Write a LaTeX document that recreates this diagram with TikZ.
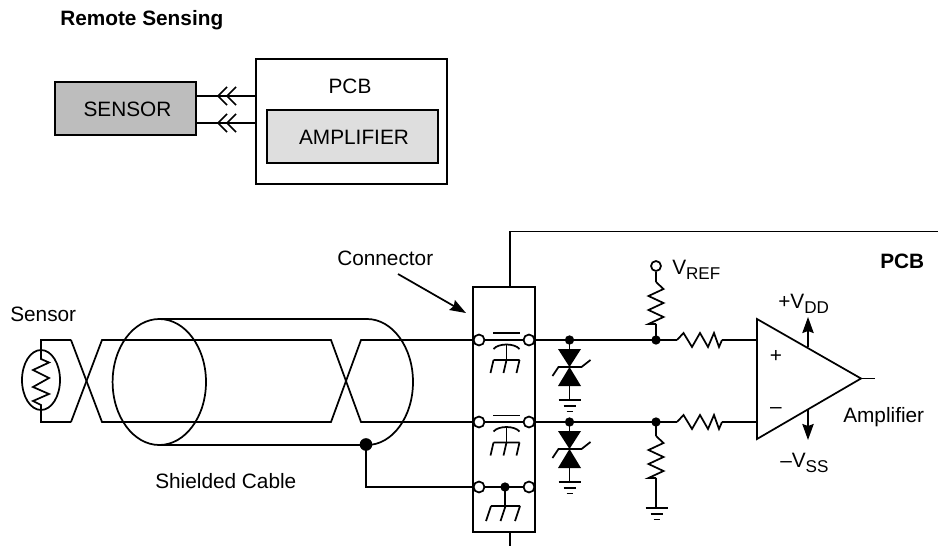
\documentclass[tikz,border=0pt]{standalone}
\usepackage{fontspec}
\setmainfont{Liberation Sans}
\usetikzlibrary{arrows.meta}
\newcommand{\subtxt}[1]{\raisebox{-4.2pt}{\fontsize{12.8}{14}\selectfont #1}}
\tikzset{
  ln/.style={line width=1.3pt,line cap=butt,line join=miter},
  lbl/.style={font=\fontsize{15.6}{18}\selectfont,inner sep=0pt,anchor=base west},
  blbl/.style={font=\bfseries\fontsize{15.6}{18}\selectfont,inner sep=0pt,anchor=base west},
  term/.style={circle,draw,fill=white,line width=1.3pt,inner sep=0pt,minimum size=8.2pt},
  dotnode/.style={circle,fill=black,inner sep=0pt,minimum size=#1},
  garrow/.style={-{Stealth[length=12pt,width=8.5pt,inset=1.5pt]},line width=1.3pt},
}
\newcommand{\vres}[3]{\draw[ln] (#1,#2) -- ++(#3,7*1) -- ++(-2*#3,7) -- ++(2*#3,7) -- ++(-2*#3,7) -- ++(2*#3,7) -- ++(-2*#3,7) -- (#1,#2+42);}
\newcommand{\hres}[2]{\draw[ln] (#1,#2) -- ++(6.5,-7) -- ++(8.5,14) -- ++(8,-14) -- ++(8,14) -- ++(6,-14) -- ++(5,14) -- ++(3,-7);}
\newcommand{\gnd}[2]{\draw[ln] (#1-11,#2) -- (#1+11,#2) (#1-6,#2+6) -- (#1+6,#2+6) (#1-3,#2+11.5) -- (#1+3,#2+11.5);}
\newcommand{\zener}[2]{%
  \fill (#1-11.5,#2+9) -- (#1+11.5,#2+9) -- (#1,#2+27) -- cycle;
  \fill (#1-11.5,#2+46) -- (#1+11.5,#2+46) -- (#1,#2+27) -- cycle;
  \draw[ln] (#1,#2) -- (#1,#2+60);
  \draw[ln] (#1-17,#2+36) -- (#1-11,#2+27) -- (#1+12,#2+27) -- (#1+21,#2+20);
  \gnd{#1}{#2+60}
}
\newcommand{\ticks}[4]{%
  \draw[ln] (#1-#3,#2) -- (#1+#3,#2)
    (#1-#3,#2) -- (#1-#3-3,#4) (#1,#2) -- (#1-3,#4) (#1+#3,#2) -- (#1+#3-3,#4);}
\newcommand{\capac}[2]{%
  \draw[ln] (#1-13.5,#2-7) -- (#1+13.5,#2-7);
  \draw[ln] (#1-13,#2+9) .. controls (#1-8,#2+3) and (#1+8,#2+3) .. (#1+13,#2+9);
  \draw[ln] (#1,#2+5) -- (#1,#2+20);
  \ticks{#1}{#2+20}{13}{#2+33}
}
\begin{document}
\begin{tikzpicture}[x=0.75pt,y=-0.75pt]
\useasboundingbox (0,0) rectangle (938,546);
% ---- top block diagram
\node[blbl] (title) at (60,26) {Remote Sensing};
\node[draw,line width=1.3pt,fill=black!26,inner sep=0pt,minimum width=105.75pt,minimum height=39.75pt] (sensorbox) at (125.5,108.5) {};
\node[lbl,anchor=base] (sensortext) at (127.5,116.5) {SENSOR};
\node[draw,line width=1.3pt,inner sep=0pt,minimum width=143.25pt,minimum height=93.75pt] (pcbbox) at (351.5,121.5) {};
\node[lbl,anchor=base] (pcbtext) at (350,93) {PCB};
\node[draw,line width=1.3pt,fill=black!13,inner sep=0pt,minimum width=128.25pt,minimum height=39.75pt] (ampbox) at (352.5,136.5) {};
\node[lbl,anchor=base] (amptext) at (354,144.5) {AMPLIFIER};
\coordinate (c1) at (sensorbox.east |- 0,96);
\coordinate (c2) at (pcbbox.west |- 0,96);
\coordinate (c3) at (sensorbox.east |- 0,123);
\coordinate (c4) at (pcbbox.west |- 0,123);
\draw[ln] (c1) -- (c2) (c3) -- (c4);
\foreach \yy in {96,123} \foreach \xx in {218,227}
  \draw[ln] (\xx+9,\yy-9) -- (\xx,\yy) -- (\xx+9,\yy+9);
% ---- PCB outline, connector
\node[draw,line width=1.3pt,inner sep=0pt,minimum width=46pt,minimum height=183.75pt] (conn) at (504,409.5) {};
\coordinate (pcbr) at (938,231.5);
\draw[ln] (conn.north -| 510,0) -- (510,231.5) -- (pcbr);
\draw[ln] (conn.south -| 510,0) -- (510,546);
\node[lbl] (connlbl) at (337,265) {Connector};
\coordinate (arrtail) at (398,274);
\coordinate (connarrow) at (466,313);
\draw[garrow] (arrtail) -- (connarrow);
% ---- sensor
\node[lbl] (sensorlbl) at (10,321) {Sensor};
\draw[ln] (41,380) ellipse (19 and 30);
\draw[ln] (71,340) -- (41,340) -- (41,359) -- (49,362.5) -- (33,370) -- (49,378) -- (33,387) -- (49,394) -- (33,401) -- (41,405) -- (41,422) -- (71,422);
% ---- cable wires
\draw[ln] (71,340) -- (102,422) -- (331,422) -- (361,340) -- (conn.west |- 0,340);
\draw[ln] (71,422) -- (102,340) -- (331,340) -- (361,422) -- (conn.west |- 0,422);
% ---- shield
\draw[ln] (159.3,382) ellipse (46.7 and 63);
\draw[ln] (159.3,319) -- (367,319) arc[start angle=-90,end angle=90,x radius=46,y radius=63] -- (159.3,445);
\node[lbl] (cablelbl) at (155,488) {Shielded Cable};
\node[dotnode=9.5pt] (shdot) at (366,444.5) {};
\draw[ln] (shdot.center) -- (366,487) -- (conn.west |- 0,487);
% ---- connector contents
\capac{506.5}{340}
\capac{506.5}{422.5}
\draw[ln] (491,506) -- (520,506) (491,506) -- (486,521) (505.5,506) -- (500.5,521) (520,506) -- (515,521);
\draw[ln] (479,340) -- (529,340) (479,422) -- (529,422) (479,487) -- (529,487);
\node[dotnode=7pt] (d3) at (505,487) {};
\draw[ln] (d3.center) -- (505,506);
\foreach \yy/\nn in {340/a,422/b,487/c}{
  \node[term] (tl\nn) at (479,\yy) {};
  \node[term] (tr\nn) at (529,\yy) {};
}
% ---- signal lines
\draw[ln] (tra) -- (677,340);
\draw[ln] (trb) -- (677,422);
\draw[ln] (722,340) -- (757,340) (722,422) -- (757,422);
\hres{677}{340}
\hres{677}{422}
% ---- zeners
\zener{569.5}{340}
\zener{569.5}{422}
\node[dotnode=7pt] (zd1) at (569.5,340) {};
\node[dotnode=7pt] (zd2) at (569.5,422) {};
% ---- reference divider
\node[circle,draw,line width=1.3pt,inner sep=0pt,minimum size=7.5pt] (vref) at (656,266) {};
\node[dotnode=7pt] (j1) at (656,340) {};
\node[dotnode=7pt] (j2) at (656,422) {};
\draw[ln] (vref) -- (656,282);
\vres{656}{282}{7.5}
\draw[ln] (656,324) -- (j1.center);
\draw[ln] (j2.center) -- (656,436);
\vres{656}{436}{7.5}
\draw[ln] (656,478) -- (656,508);
\gnd{656.5}{508}
\node[lbl] (vreflbl) at (672,274) {V\subtxt{REF}};
\node[blbl] (pcblbl) at (880,268) {PCB};
% ---- amplifier
\coordinate (opa) at (757,319);
\coordinate (opb) at (757,439);
\coordinate (opc) at (861,378.5);
\draw[ln] (opa) -- (opc) -- (opb) -- cycle;
\coordinate (out) at (875,378.5);
\draw[ln] (opc) -- (out);
\node[lbl,anchor=center] (plus) at (776,356) {+};
\node[lbl,anchor=center] (minus) at (776,411) {–};
\coordinate (vdda) at (808,347);
\coordinate (vddb) at (808,317);
\coordinate (vssa) at (808,410);
\coordinate (vssb) at (808,440);
\draw[garrow] (vdda) -- (vddb);
\draw[garrow] (vssa) -- (vssb);
\node[lbl] (vddlbl) at (778,308) {+V\subtxt{DD}};
\node[lbl] (vsslbl) at (780,467) {–V\subtxt{SS}};
\node[lbl] (amplbl) at (843,422) {Amplifier};
\end{tikzpicture}
\end{document}
